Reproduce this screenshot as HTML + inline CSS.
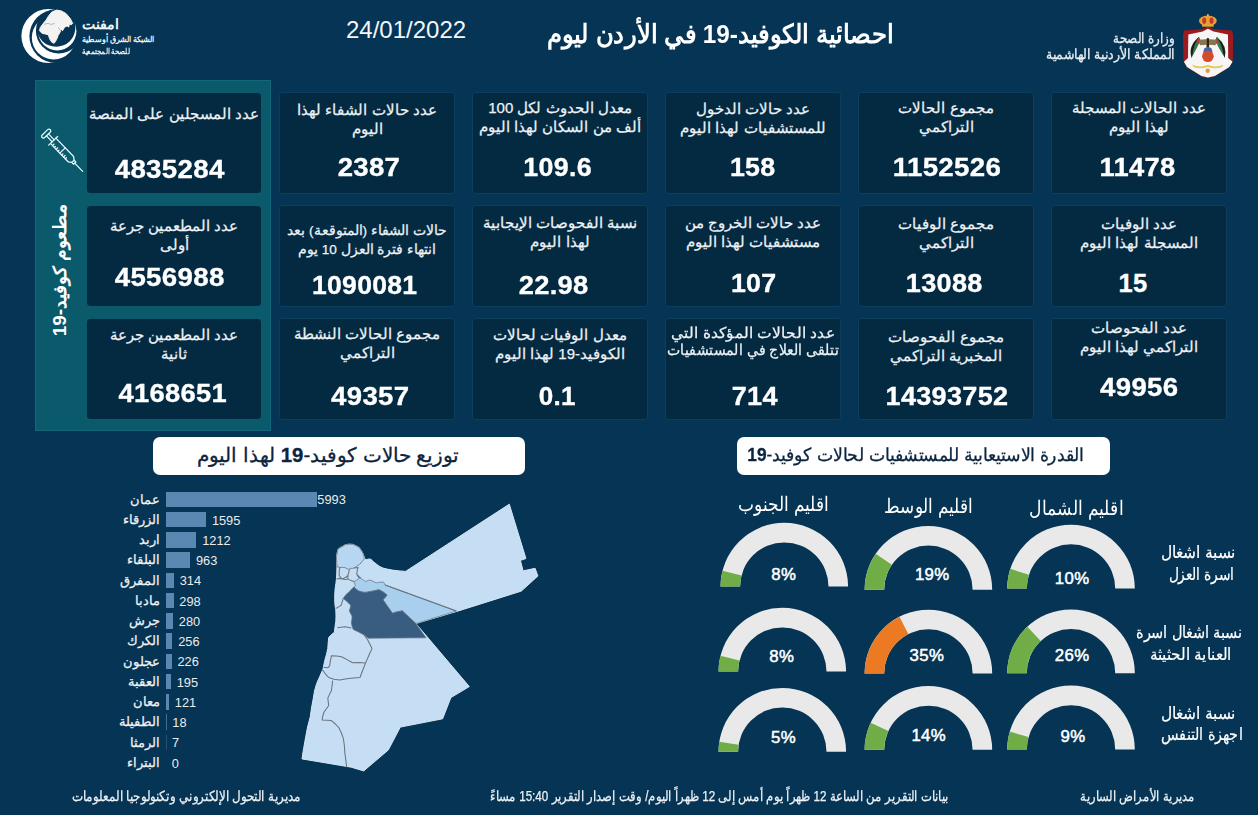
<!DOCTYPE html>
<html lang="ar">
<head>
<meta charset="utf-8">
<title>احصائية الكوفيد-19 في الأردن</title>
<style>
*{margin:0;padding:0;box-sizing:border-box}
html,body{width:1258px;height:815px;overflow:hidden;background:#053454}
body{position:relative;font-family:"Liberation Sans",sans-serif;color:#fff}
.abs{position:absolute}
.card{position:absolute;width:176px;height:102px;background:#042a42;border:1px solid #0d3e5c;border-radius:3px}
.teal .card{border-color:#042a42}
.lbl{position:absolute;left:-20px;width:214px;text-align:center;direction:rtl;white-space:nowrap;font-size:15px;line-height:19px;color:#edf2f6;-webkit-text-stroke:.25px #edf2f6}
.num{position:absolute;left:-20px;width:214px;text-align:center;font-weight:bold;font-size:25.5px;line-height:26px;color:#fff;-webkit-text-stroke:.35px #fff}
.num span{display:inline-block;letter-spacing:.3px}
.sx{display:inline-block;transform-origin:50% 50%}
.tbox{position:absolute;background:#fff;border-radius:7px;height:38px;color:#0b2540;direction:rtl;white-space:nowrap;font-size:19px;line-height:38px;-webkit-text-stroke:.3px #0b2540}
.rtl{direction:rtl;white-space:nowrap}
.bar{position:absolute;left:166px;height:15.6px;background:#5b87b3}
.bl{position:absolute;right:1098px;direction:rtl;white-space:nowrap;font-size:12.6px;line-height:16px;color:#f2f2f2;-webkit-text-stroke:.25px #f2f2f2}
.bv{position:absolute;font-size:12.8px;line-height:16px;color:#ececec}
.gt{position:absolute;width:160px;text-align:center;direction:rtl;white-space:nowrap;font-size:20px;line-height:24px;color:#fff}
.gl{position:absolute;width:160px;text-align:center;direction:rtl;white-space:nowrap;font-size:16.5px;line-height:21.5px;color:#fff;-webkit-text-stroke:.2px #fff}
.pct{position:absolute;width:80px;text-align:center;font-size:16.8px;line-height:18px;letter-spacing:.4px;color:#fff;-webkit-text-stroke:.5px #fff}
.ft{position:absolute;direction:rtl;white-space:nowrap;font-size:14px;line-height:18px;color:#eef2f5;-webkit-text-stroke:.25px #eef2f5}
</style>
</head>
<body>
<!-- header -->
<div class="abs rtl" id="title" style="right:365px;top:14px;font-weight:bold;font-size:26px;line-height:40px;color:#fff"><span class="sx" id="title_s" style="transform-origin:100% 50%;transform:scaleX(.936)">احصائية الكوفيد-19 في الأردن ليوم</span></div>
<div class="abs" id="date" style="left:346px;top:15px;width:120px;text-align:center;font-size:24px;line-height:30px;color:#f4f6f8">24/01/2022</div>
<div class="abs rtl" id="moh1" style="right:83.5px;top:28.5px;font-size:14px;line-height:18px;color:#e9eef2;-webkit-text-stroke:.3px #e9eef2;text-align:right"><span class="sx" id="moh1s" style="transform-origin:100% 50%;transform:scaleX(.85)">وزارة الصحة</span></div>
<div class="abs rtl" id="moh2" style="right:83.5px;top:45px;font-size:14px;line-height:18px;color:#e9eef2;-webkit-text-stroke:.3px #e9eef2;text-align:right"><span class="sx" id="moh2s" style="transform-origin:100% 50%;transform:scaleX(.899)">المملكة الأردنية الهاشمية</span></div>
<div class="abs rtl" id="em1" style="left:82px;top:12.5px;font-size:14.2px;font-weight:bold;line-height:22px;color:#f3f6f8;text-align:left">امفنت</div>
<div class="abs rtl" id="em2" style="left:82px;top:34px;font-size:7.5px;line-height:11px;font-weight:bold;color:#eef2f5;text-align:left">الشبكة الشرق أوسطية</div>
<div class="abs rtl" id="em3" style="left:82px;top:45.7px;font-size:7.5px;line-height:11px;font-weight:bold;color:#eef2f5;text-align:left"><span class="sx" style="transform-origin:0 50%;transform:scaleX(.885)">للصحة المجتمعية</span></div>
<!-- vaccine panel -->
<div class="abs teal" style="left:35px;top:80px;width:236px;height:351px;background:#0a5a6c;border:1px solid #12677a"></div>
<!-- stat cards -->
<div class="card" style="left:87px;top:93px;width:174px;height:99.5px;border-color:#042a42"><div class="lbl" style="top:10px;left:-21px"><span class="sx" id="c0l0">عدد المسجلين على المنصة</span></div><div class="num" style="top:62px;left:-25px"><span id="c0n" style="transform:scaleX(1.085)">4835284</span></div></div>
<div class="card" style="left:279px;top:92px"><div class="lbl" style="top:7px"><span class="sx" id="c1l0">عدد حالات الشفاء لهذا</span><br><span class="sx" id="c1l1">اليوم</span></div><div class="num" style="top:61px;left:-18.5px"><span id="c1n" style="transform:scaleX(1.08)">2387</span></div></div>
<div class="card" style="left:472px;top:92px"><div class="lbl" style="top:5px"><span class="sx" id="c2l0">معدل الحدوث لكل 100</span><br><span class="sx" id="c2l1">ألف من السكان لهذا اليوم</span></div><div class="num" style="top:61px;left:-22.5px"><span id="c2n" style="transform:scaleX(1.05)">109.6</span></div></div>
<div class="card" style="left:665px;top:92px"><div class="lbl" style="top:6px"><span class="sx" id="c3l0">عدد حالات الدخول</span><br><span class="sx" id="c3l1">للمستشفيات لهذا اليوم</span></div><div class="num" style="top:61px;left:-20px"><span id="c3n" style="transform:scaleX(1.05)">158</span></div></div>
<div class="card" style="left:858px;top:92px"><div class="lbl" style="top:5px"><span class="sx" id="c4l0">مجموع الحالات</span><br><span class="sx" id="c4l1">التراكمي</span></div><div class="num" style="top:60.5px;left:-19.5px"><span id="c4n" style="transform:scaleX(1.085)">1152526</span></div></div>
<div class="card" style="left:1051px;top:92px"><div class="lbl" style="top:5px"><span class="sx" id="c5l0">عدد الحالات المسجلة</span><br><span class="sx" id="c5l1">لهذا اليوم</span></div><div class="num" style="top:61px;left:-21.5px"><span id="c5n" style="transform:scaleX(1.07)">11478</span></div></div>
<div class="card" style="left:87px;top:206px;width:174px;height:99.5px;border-color:#042a42"><div class="lbl" style="top:9px;left:-21px"><span class="sx" id="c6l0">عدد المطعمين جرعة</span><br><span class="sx" id="c6l1">أولى</span></div><div class="num" style="top:57px;left:-25px"><span id="c6n" style="transform:scaleX(1.085)">4556988</span></div></div>
<div class="card" style="left:279px;top:205px"><div class="lbl" style="top:15.2px;font-size:13.6px"><span class="sx" id="c7l0">حالات الشفاء (المتوقعة) بعد</span><br><span class="sx" id="c7l1">انتهاء فترة العزل 10 يوم</span></div><div class="num" style="top:66px;left:-22.5px"><span id="c7n" style="transform:scaleX(1.04)">1090081</span></div></div>
<div class="card" style="left:472px;top:205px"><div class="lbl" style="top:6.5px"><span class="sx" id="c8l0">نسبة الفحوصات الإيجابية</span><br><span class="sx" id="c8l1">لهذا اليوم</span></div><div class="num" style="top:66px;left:-26px"><span id="c8n" style="transform:scaleX(1.07)">22.98</span></div></div>
<div class="card" style="left:665px;top:205px"><div class="lbl" style="top:6.5px"><span class="sx" id="c9l0">عدد حالات الخروج من</span><br><span class="sx" id="c9l1">مستشفيات لهذا اليوم</span></div><div class="num" style="top:64px;left:-19.5px"><span id="c9n" style="transform:scaleX(1.05)">107</span></div></div>
<div class="card" style="left:858px;top:205px"><div class="lbl" style="top:7.5px"><span class="sx" id="c10l0">مجموع الوفيات</span><br><span class="sx" id="c10l1">التراكمي</span></div><div class="num" style="top:64px;left:-22px"><span id="c10n" style="transform:scaleX(1.06)">13088</span></div></div>
<div class="card" style="left:1051px;top:205px"><div class="lbl" style="top:7.5px"><span class="sx" id="c11l0">عدد الوفيات</span><br><span class="sx" id="c11l1">المسجلة لهذا اليوم</span></div><div class="num" style="top:64px;left:-26px"><span id="c11n" style="transform:scaleX(1.0)">15</span></div></div>
<div class="card" style="left:87px;top:319px;width:174px;height:99.5px;border-color:#042a42"><div class="lbl" style="top:5px;left:-21px"><span class="sx" id="c12l0">عدد المطعمين جرعة</span><br><span class="sx" id="c12l1">ثانية</span></div><div class="num" style="top:60px;left:-22px"><span id="c12n" style="transform:scaleX(1.07)">4168651</span></div></div>
<div class="card" style="left:279px;top:318px"><div class="lbl" style="top:5px"><span class="sx" id="c13l0">مجموع الحالات النشطة</span><br><span class="sx" id="c13l1">التراكمي</span></div><div class="num" style="top:64px;left:-17px"><span id="c13n" style="transform:scaleX(1.08)">49357</span></div></div>
<div class="card" style="left:472px;top:318px"><div class="lbl" style="top:6px"><span class="sx" id="c14l0">معدل الوفيات لحالات</span><br><span class="sx" id="c14l1">الكوفيد-19 لهذا اليوم</span></div><div class="num" style="top:64px;left:-22.5px"><span id="c14n" style="transform:scaleX(1.02)">0.1</span></div></div>
<div class="card" style="left:665px;top:318px"><div class="lbl" style="top:4.5px;line-height:17.6px"><span class="sx" id="c15l0" style="transform:scaleX(1.03)">عدد الحالات المؤكدة التي</span><br><span class="sx" id="c15l1" style="transform:scaleX(0.935)">تتلقى العلاج في المستشفيات</span></div><div class="num" style="top:64px;left:-18.5px"><span id="c15n" style="transform:scaleX(1.06)">714</span></div></div>
<div class="card" style="left:858px;top:318px"><div class="lbl" style="top:7.5px"><span class="sx" id="c16l0">مجموع الفحوصات</span><br><span class="sx" id="c16l1">المخبرية التراكمي</span></div><div class="num" style="top:63.5px;left:-19px"><span id="c16n" style="transform:scaleX(1.06)">14393752</span></div></div>
<div class="card" style="left:1051px;top:318px"><div class="lbl" style="top:-1px"><span class="sx" id="c17l0">عدد الفحوصات</span><br><span class="sx" id="c17l1">التراكمي لهذا اليوم</span></div><div class="num" style="top:55px;left:-20px"><span id="c17n" style="transform:scaleX(1.08)">49956</span></div></div>
<!-- vaccine side label -->
<div class="abs rtl" id="vtxt" style="left:-40.2px;top:259.8px;width:200px;height:20px;text-align:center;font-weight:bold;font-size:18px;line-height:20px;color:#fff;transform:rotate(-90deg) scaleX(1.05)"><span id="vs">مطعوم كوفيد-19</span></div>
<svg class="abs" style="left:36px;top:122px" width="56" height="56" viewBox="36 122 56 56" fill="none" stroke="#e6f8ff" stroke-width="1.25" stroke-linecap="round" stroke-linejoin="round"><g transform="translate(46.2 133.6) rotate(46)"><rect x="-1.8" y="-5.6" width="3.6" height="11.2" rx="1.8"/><path d="M1.8 -1.4H10M1.8 1.4H10"/><path d="M10 -6.2V6.2"/><path d="M10 -3.8H35.5L38.5 -1.6V1.6L35.5 3.8H10"/><path d="M23.5 -3.8V3.8"/><path d="M13 3.8V1.6M15.6 3.8V2.2M18.2 3.8V1.6M20.8 3.8V2.2M26.2 3.8V2.2M28.8 3.8V1.6M31.4 3.8V2.2"/><path d="M38.5 -1.6H41V1.6H38.5"/><path d="M41 0H52.5"/></g></svg>
<!-- section titles -->
<div class="tbox" id="tb1" style="left:153px;top:437px;width:372px"><span class="abs" id="tb1s" style="right:65.5px;top:-1px;font-size:20.4px">توزيع حالات كوفيد-<b>19</b> لهذا اليوم</span></div>
<div class="tbox" id="tb2" style="left:737px;top:437px;width:373px"><span class="abs" id="tb2s" style="right:25.5px;top:-1px;font-size:18px;transform-origin:100% 50%;transform:scaleX(.962)">القدرة الاستيعابية للمستشفيات لحالات كوفيد-<b>19</b></span></div>
<!-- governorate bars -->
<div class="bar" style="top:491.50px;width:150.5px"></div>
<div class="bl" style="top:491.50px">عمان</div><div class="bv" style="left:317.3px;top:492.40px">5993</div>
<div class="bar" style="top:511.75px;width:40.1px"></div>
<div class="bl" style="top:511.75px">الزرقاء</div><div class="bv" style="left:211.9px;top:512.65px">1595</div>
<div class="bar" style="top:532.00px;width:30.4px"></div>
<div class="bl" style="top:532.00px">اربد</div><div class="bv" style="left:202.2px;top:532.90px">1212</div>
<div class="bar" style="top:552.25px;width:24.2px"></div>
<div class="bl" style="top:552.25px">البلقاء</div><div class="bv" style="left:196.0px;top:553.15px">963</div>
<div class="bar" style="top:572.50px;width:7.9px"></div>
<div class="bl" style="top:572.50px">المفرق</div><div class="bv" style="left:179.7px;top:573.40px">314</div>
<div class="bar" style="top:592.75px;width:7.5px"></div>
<div class="bl" style="top:592.75px">مادبا</div><div class="bv" style="left:179.3px;top:593.65px">298</div>
<div class="bar" style="top:613.00px;width:7.0px"></div>
<div class="bl" style="top:613.00px">جرش</div><div class="bv" style="left:178.8px;top:613.90px">280</div>
<div class="bar" style="top:633.25px;width:6.4px"></div>
<div class="bl" style="top:633.25px">الكرك</div><div class="bv" style="left:178.2px;top:634.15px">256</div>
<div class="bar" style="top:653.50px;width:5.7px"></div>
<div class="bl" style="top:653.50px">عجلون</div><div class="bv" style="left:177.5px;top:654.40px">226</div>
<div class="bar" style="top:673.75px;width:4.9px"></div>
<div class="bl" style="top:673.75px">العقبة</div><div class="bv" style="left:176.7px;top:674.65px">195</div>
<div class="bar" style="top:694.00px;width:3.0px"></div>
<div class="bl" style="top:694.00px">معان</div><div class="bv" style="left:174.8px;top:694.90px">121</div>
<div class="bar" style="top:714.25px;width:1px;opacity:0.7"></div>
<div class="bl" style="top:714.25px">الطفيلة</div><div class="bv" style="left:172.3px;top:715.15px">18</div>
<div class="bar" style="top:734.50px;width:1px;opacity:0.35"></div>
<div class="bl" style="top:734.50px">الرمثا</div><div class="bv" style="left:172.0px;top:735.40px">7</div>
<div class="bl" style="top:754.75px">البتراء</div><div class="bv" style="left:171.8px;top:755.65px">0</div>
<!-- Jordan map -->
<svg class="abs" style="left:290px;top:490px" width="260" height="295" viewBox="290 490 260 295" stroke-linejoin="round">
<path d="M336.5 556.6L337.8 549.8L340 547.6L342.5 546.5L345.5 544.6L349.3 544.2L353 544.4L356 545.8L358.8 547.2L360.8 549.8L362.8 553L364.1 556.6L365.5 560L368.5 559L370.9 559.3L373.5 561.8L376.3 564L379.5 566.4L383 568.1L388 569.3L392.5 570.1L399 570.9L405.6 571.4L509.3 504.2L525.9 558.5L520.4 560.4L523.1 570.9L535.1 568.3L537.9 576L521.3 591.1L456.8 611.4L415.9 623.6L469.3 686.6L450.9 697.6L442.6 718.8L400.3 727.1L388.3 750L363.7 770.9L351.3 767.2L302 758.9L303.2 751L305.7 736.8L307.6 727L310.3 716.6L311.5 708L313 700L314.5 691L316.7 683.4L320 676L323.1 668.7L324 664L325 659.5L326.6 654L327.8 648.4L328.2 643L328.7 637.4L331.6 634.5L334.4 632.2L335 627L335.8 621.4L336 616L335.8 610.6L335 605L334.7 599.8L334.8 594L335.1 589L335.9 583.5L336.5 578.2L336.8 573L336.9 567.4L336.6 562Z" fill="#c5def4" stroke="#d7e6f2" stroke-width="1"/>
<path d="M336.6 562L336.5 556.6L337.8 549.8L340 547.6L342.5 546.5L345.5 544.6L349.3 544.2L353 544.4L356 545.8L358.8 547.2L360.8 549.8L362.8 553L364.1 556.6L364.1 559.3L362.5 561L360.1 564L357 566L354 568.1L351 568.4L348.6 569.4L345 567.6L342.5 567.4L339.8 567.4L337.1 566.7Z" fill="#b6d6f1" stroke="#68747f" stroke-width=".8"/>
<path d="M354 587L355.4 585.6L354 581.6L356.8 580L359.4 578.2L360.8 578.2L365.5 581.6L368.2 580.4L370.9 580.2L376.3 582.9L380 582.1L383.7 582.2L385 584.9L456.4 611L415.9 623.6L402.1 610.7L400.6 611.2L396.5 611.9L392.5 613.3L387.6 606.4L383 599.8L385 597.6L387.1 595L383.2 592L379 589.7L372 591.2L365.5 592.4L362 592L358.7 591L356.2 589.2Z" fill="#a9cfef" stroke="#68747f" stroke-width=".7"/>
<path d="M343.2 598.4L346 594.6L349.3 591.7L351.6 589L354 587L356.2 589.2L358.7 591L362 592L365.5 592.4L372 591.2L379 589.7L383.2 592L387.1 595L385 597.6L383 599.8L387.6 606.4L392.5 613.3L396.5 611.9L400.6 611.2L402.1 610.7L415.9 623.6L426 637.8L368.2 638.2L366 636.3L364.1 634.9L358.6 632L353.3 629.5L352 626L351.3 622.7L351.9 619.4L352 616L350.4 613.2L349.3 610.6L350.2 608L350.6 605.2L347 601.6Z" fill="#395d81" stroke="#5f7388" stroke-width=".7"/>
<path d="M339.8 567.4L339.2 571.5L339.2 575.5L340.6 577.6L342.5 578.9L345.4 577.6L347.9 575.5L348.8 572.4L349.3 569.4M354 568.1L358.1 567.4L357.2 570.8L356.7 574.1L358 576.4L359.4 578.2M342.5 578.9L345.4 579.6L347.9 578.9L351 580.6L354 581.6M347.9 575.5L347.9 578.9M356.7 574.1L358.8 576.4L360.8 578.2M385 584.9L456.4 611M336.5 578.9L339.5 578.4L342.5 578.9M335.6 608.6L339 606.6L341.2 605.2L342.3 601.6L343.2 598.4M337.4 627.8L341 627.2L345.2 626.8L349 627.4L351.3 628M364.1 634.9L367.3 639.2L369.8 644L372 648.4L368.6 656L365.5 663.1L362.6 670.5L360 677.5M323.6 667.2L327.8 667.8L329.6 665.9L330.4 661L331.4 655.8L336.5 655.9L341.6 656.7L347 659.6L352.6 662.8L359 662.6L365.5 663.1M322.2 669.6L325.4 673.8L328.7 677.5L334 679.2L339.7 680.1L345.4 679L350.8 678.3L360 677.5M332.7 680.6L332 686L331.4 690.8L329.4 694.6L327.8 698.1L328.7 705.5L326.2 709L324.1 712L322.8 716L322.2 719.9L331.4 720.6L335.4 724L338.8 727.6L341.4 733L343.4 738.7L344.4 746L344.9 753.4L345.8 760L346.7 767.2" fill="none" stroke="#68747f" stroke-width="1.05"/>
</svg>
<!-- hospital capacity gauges -->
<svg class="abs" style="left:700px;top:500px" width="460" height="270" viewBox="700 500 460 270">
<path d="M720.50 586.60A63.8 63.8 0 0 1 848.10 586.60L828.50 586.60A44.2 44.2 0 0 0 740.10 586.60Z" fill="#e9e9e9"/><path d="M720.50 586.60A63.8 63.8 0 0 1 722.50 570.73L741.49 575.61A44.2 44.2 0 0 0 740.10 586.60Z" fill="#70ad47"/>
<path d="M864.60 589.70A63.8 63.8 0 0 1 992.20 589.70L972.60 589.70A44.2 44.2 0 0 0 884.20 589.70Z" fill="#e9e9e9"/><path d="M864.60 589.70A63.8 63.8 0 0 1 875.63 553.84L891.84 564.86A44.2 44.2 0 0 0 884.20 589.70Z" fill="#70ad47"/>
<path d="M1007.20 588.50A63.8 63.8 0 0 1 1134.80 588.50L1115.20 588.50A44.2 44.2 0 0 0 1026.80 588.50Z" fill="#e9e9e9"/><path d="M1007.20 588.50A63.8 63.8 0 0 1 1010.32 568.78L1028.96 574.84A44.2 44.2 0 0 0 1026.80 588.50Z" fill="#70ad47"/>
<path d="M718.50 671.60A63.8 63.8 0 0 1 846.10 671.60L826.50 671.60A44.2 44.2 0 0 0 738.10 671.60Z" fill="#e9e9e9"/><path d="M718.50 671.60A63.8 63.8 0 0 1 720.50 655.73L739.49 660.61A44.2 44.2 0 0 0 738.10 671.60Z" fill="#70ad47"/>
<path d="M864.60 673.50A63.8 63.8 0 0 1 992.20 673.50L972.60 673.50A44.2 44.2 0 0 0 884.20 673.50Z" fill="#e9e9e9"/><path d="M864.60 673.50A63.8 63.8 0 0 1 899.44 616.65L908.33 634.12A44.2 44.2 0 0 0 884.20 673.50Z" fill="#ec7a22"/>
<path d="M1007.20 673.20A63.8 63.8 0 0 1 1134.80 673.20L1115.20 673.20A44.2 44.2 0 0 0 1026.80 673.20Z" fill="#e9e9e9"/><path d="M1007.20 673.20A63.8 63.8 0 0 1 1027.33 626.69L1040.74 640.98A44.2 44.2 0 0 0 1026.80 673.20Z" fill="#70ad47"/>
<path d="M718.50 751.70A63.8 63.8 0 0 1 846.10 751.70L826.50 751.70A44.2 44.2 0 0 0 738.10 751.70Z" fill="#e9e9e9"/><path d="M718.50 751.70A63.8 63.8 0 0 1 719.29 741.72L738.64 744.79A44.2 44.2 0 0 0 738.10 751.70Z" fill="#70ad47"/>
<path d="M864.60 749.80A63.8 63.8 0 0 1 992.20 749.80L972.60 749.80A44.2 44.2 0 0 0 884.20 749.80Z" fill="#e9e9e9"/><path d="M864.60 749.80A63.8 63.8 0 0 1 870.67 722.64L888.41 730.98A44.2 44.2 0 0 0 884.20 749.80Z" fill="#70ad47"/>
<path d="M1007.20 749.40A63.8 63.8 0 0 1 1134.80 749.40L1115.20 749.40A44.2 44.2 0 0 0 1026.80 749.40Z" fill="#e9e9e9"/><path d="M1007.20 749.40A63.8 63.8 0 0 1 1009.73 731.60L1028.56 737.07A44.2 44.2 0 0 0 1026.80 749.40Z" fill="#70ad47"/>
</svg>
<div class="pct" style="left:743.9px;top:566.2px">8%</div>
<div class="pct" style="left:892.3px;top:565.8px">19%</div>
<div class="pct" style="left:1032.2px;top:569.8px">10%</div>
<div class="pct" style="left:741.7px;top:647.6px">8%</div>
<div class="pct" style="left:887.0px;top:647.0px">35%</div>
<div class="pct" style="left:1032.2px;top:647.0px">26%</div>
<div class="pct" style="left:743.5px;top:728.7px">5%</div>
<div class="pct" style="left:888.8px;top:727.0px">14%</div>
<div class="pct" style="left:1033.1px;top:728.0px">9%</div>
<div class="gt" style="left:704.1px;top:492.2px"><span class="sx" id="gt0" style="transform:scaleX(0.85)">اقليم الجنوب</span></div>
<div class="gt" style="left:848.3px;top:494px"><span class="sx" id="gt1" style="transform:scaleX(0.843)">اقليم الوسط</span></div>
<div class="gt" style="left:996.0px;top:495.5px"><span class="sx" id="gt2" style="transform:scaleX(0.857)">اقليم الشمال</span></div>
<div class="gl" style="left:1118.5px;top:542px"><span class="sx" id="gl0a" style="transform:scaleX(0.91)">نسبة اشغال</span></div>
<div class="gl" style="left:1120.9px;top:563.5px"><span class="sx" id="gl0b" style="transform:scaleX(0.812)">اسرة العزل</span></div>
<div class="gl" style="left:1109.3px;top:622px"><span class="sx" id="gl1a" style="transform:scaleX(0.854)">نسبة اشغال اسرة</span></div>
<div class="gl" style="left:1111.0px;top:643.5px"><span class="sx" id="gl1b" style="transform:scaleX(0.891)">العناية الحثيثة</span></div>
<div class="gl" style="left:1118.5px;top:702.5px"><span class="sx" id="gl2a" style="transform:scaleX(0.91)">نسبة اشغال</span></div>
<div class="gl" style="left:1121.4px;top:724.0px"><span class="sx" id="gl2b" style="transform:scaleX(0.844)">اجهزة التنفس</span></div>
<!-- footer -->
<div class="ft" id="f1" style="right:63px;top:787px"><span class="sx" id="f1s" style="transform-origin:100% 50%;transform:scaleX(.824)">مديرية الأمراض السارية</span></div>
<div class="ft" id="f2" style="right:309.5px;top:787px"><span class="sx" id="f2s" style="transform-origin:100% 50%;transform:scaleX(.831)">بيانات التقرير من الساعة 12 ظهراً يوم أمس إلى 12 ظهراً اليوم/ وقت إصدار التقرير 15:40 مساءً</span></div>
<div class="ft" id="f3" style="left:72px;top:787px"><span class="sx" id="f3s" style="transform-origin:0 50%;transform:scaleX(.85)">مديرية التحول الإلكتروني وتكنولوجيا المعلومات</span></div>
<!-- EMPHNET logo -->
<svg class="abs" style="left:16px;top:4px" width="70" height="66" viewBox="16 4 70 66"><defs><mask id="m1"><rect x="0" y="0" width="100" height="80" fill="#fff"/><circle cx="56.2" cy="36.2" r="26.8" fill="#000"/></mask><mask id="m2"><rect x="0" y="0" width="100" height="80" fill="#fff"/><circle cx="58.7" cy="30.7" r="22.8" fill="#000"/></mask><mask id="m3"><rect x="0" y="0" width="100" height="80" fill="#fff"/><circle cx="56.1" cy="27.5" r="19.3" fill="#000"/></mask></defs><circle cx="48.4" cy="36" r="27" fill="#fff" mask="url(#m1)"/><circle cx="53.7" cy="37.6" r="21.9" fill="#fff" mask="url(#m2)"/><circle cx="57.2" cy="31.2" r="19.2" fill="#fff" mask="url(#m3)"/><circle cx="56.1" cy="27.5" r="18" fill="#053454"/><path d="M39.5 30.7L40.3 27.5L43.6 23L46 20.2L48.4 16.2L51.7 12.1L56.5 10.1L61.4 10.9L66.2 13.7L70.3 18.6L72.7 23.4L71.5 24.7L69.5 23.9L68.7 27.1L67.1 25.9L64.6 27.1L62.6 30.7L61.4 29.1L60.2 32L58.1 35.6L56.5 39.7L54.1 43.3L51.7 42.1L49.6 38.8L48.4 34.8L45.2 34L41.9 33.2Z" fill="#f5f3f2" stroke="#f5f3f2" stroke-width="1" stroke-linejoin="round"/><path d="M44.5 24.2L48 23.4L51 24.4L54.5 23.6M58.5 27.5L60.5 31" fill="none" stroke="#8fa3b8" stroke-width=".7" stroke-linecap="round"/></svg>
<!-- Jordan coat of arms -->
<svg class="abs" style="left:1175px;top:8px" width="66" height="74" viewBox="1175 8 66 74"><path d="M1207.9 26.4L1202.2 29.3L1184.1 30.5L1183.0 35.2L1183.4 59.7L1186.8 67.5L1201.3 76.3L1207.9 78.1L1214.9 76.3L1229.5 67.5L1232.9 59.7L1233.1 35.2L1232.0 30.5L1214.0 29.3Z" fill="#9c1b1f"/><path d="M1207.9 28.7L1202.7 31.4L1188.3 34.5L1188.0 58.1L1183.9 61.7L1187.0 67.0L1201.5 75.9L1207.9 77.5L1214.8 75.9L1229.3 67.0L1232.6 61.7L1228.2 58.1L1228.0 34.5L1213.6 31.4Z" fill="#f6f6f6"/><ellipse cx="1207.9" cy="20.7" rx="8.9" ry="5.3" fill="#e8a033"/><ellipse cx="1204.2" cy="20.7" rx="2.0" ry="3.1" fill="#c8372b"/><ellipse cx="1211.5" cy="20.7" rx="2.0" ry="3.1" fill="#c8372b"/><rect x="1202.1" y="24.3" width="11.6" height="2.4" fill="#e3a437"/><circle cx="1207.9" cy="15.1" r="1" fill="#f0c24b"/><path d="M1198.8 36.9Q1187.7 46.1 1191.6 57.9Q1195.7 47.9 1199.5 38.0Z" fill="#1d1d1d"/><path d="M1198.8 37.2Q1192.8 46.1 1192.4 56.1Q1197.2 47.9 1200.6 40.0Z" fill="#2e7d4a"/><path d="M1198.4 37.5L1200.9 43.0L1197.2 44.3Z" fill="#c8372b"/><path d="M1216.9 36.9Q1228.0 46.1 1224.7 57.9Q1220.0 47.9 1216.2 38.0Z" fill="#1d1d1d"/><path d="M1216.9 37.2Q1222.9 46.1 1223.6 56.1Q1218.5 47.9 1215.1 40.0Z" fill="#2e7d4a"/><path d="M1217.3 37.5L1214.9 43.0L1218.5 44.3Z" fill="#c8372b"/><path d="M1199.1 39.8L1206.3 39.3L1207.9 37.5L1209.4 39.3L1216.6 39.8L1215.7 45.2L1209.5 44.8L1208.8 47.9L1207.0 47.9L1206.2 44.8L1200.0 45.2Z" fill="#8a7450"/><rect x="1206.8" y="38.4" width="2.2" height="9.1" fill="#2b2418"/><circle cx="1207.9" cy="51.4" r="4.4" fill="#3f62ad"/><circle cx="1207.9" cy="56.3" r="5.8" fill="#d8482c"/><circle cx="1207.9" cy="56.3" r="2.0" fill="#b8562f"/><path d="M1192.2 64.7Q1200.0 67.9 1207.9 65.0Q1215.8 67.9 1223.5 64.7L1222.2 67.0Q1215.8 69.7 1207.9 67.0Q1200.0 69.7 1193.5 67.0Z" fill="#e7c94f"/><circle cx="1207.7" cy="70.8" r="2.2" fill="#e59a3a"/></svg>
</body>
</html>
